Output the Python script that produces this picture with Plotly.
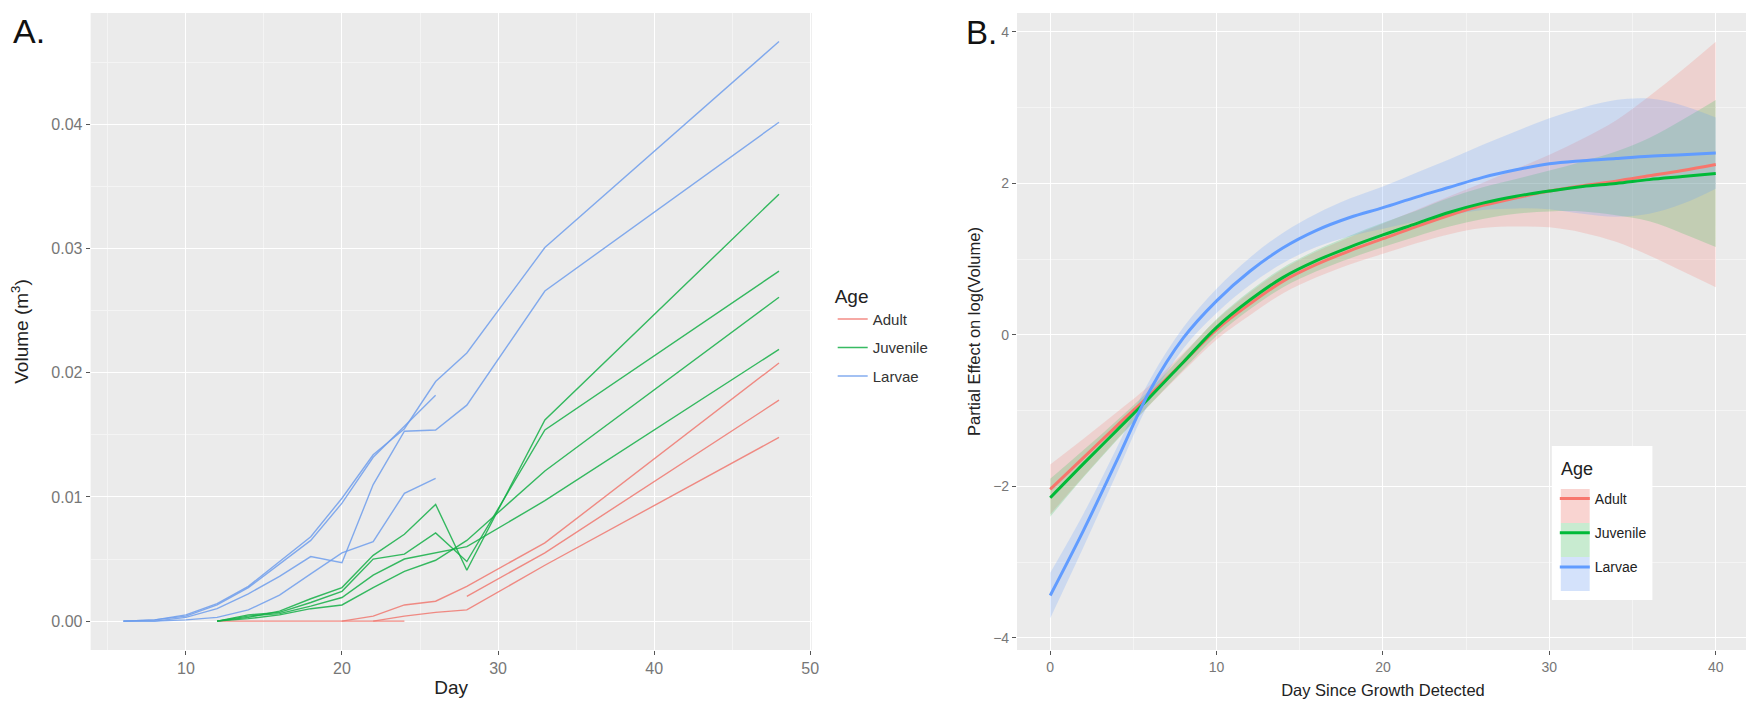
import plotly.graph_objects as go

# ---------------- Panel A data (Day vs Volume, m^3) ----------------
larvae_days_long = [6, 8, 10, 12, 14, 16, 18, 20, 22, 24, 26, 28, 33, 48]
larvae_days_short = [6, 8, 10, 12, 14, 16, 18, 20, 22, 24, 26]
larvae_1 = [0, 0.0001, 0.0005, 0.0014, 0.0028, 0.0048, 0.0068, 0.0099, 0.0134, 0.0155, 0.0193, 0.0216, 0.0301, 0.0467]
larvae_2 = [0, 0.0001, 0.0004, 0.0013, 0.0027, 0.0046, 0.0065, 0.0095, 0.0132, 0.0157, 0.0182]
larvae_3 = [0, 0, 0.0003, 0.0010, 0.0022, 0.0036, 0.0052, 0.0047, 0.0110, 0.0153, 0.0154, 0.0174, 0.0266, 0.0402]
larvae_4 = [0, 0, 0.0001, 0.0003, 0.0009, 0.0021, 0.0038, 0.0055, 0.0064, 0.0103, 0.0115]

juvenile_days = [12, 14, 16, 18, 20, 22, 24, 26, 28, 33, 48]
juvenile_1 = [0, 0.0003, 0.0008, 0.0018, 0.0027, 0.0053, 0.0070, 0.0094, 0.0041, 0.0162, 0.0344]
juvenile_2 = [0, 0.0005, 0.0007, 0.0015, 0.0024, 0.0050, 0.0054, 0.0071, 0.0048, 0.0154, 0.0282]
juvenile_3 = [0, 0.0004, 0.0006, 0.0012, 0.0019, 0.0037, 0.0050, 0.0055, 0.0060, 0.0097, 0.0219]
juvenile_4 = [0, 0.0002, 0.0005, 0.0010, 0.0013, 0.0027, 0.0040, 0.0049, 0.0065, 0.0121, 0.0261]

adult_0_days = [12, 14, 16, 18, 20, 22, 24]
adult_0 = [0, 0, 0, 0, 0, 0, 0]
adult_1_days = [20, 22, 24, 26, 28, 33, 48]
adult_1 = [0, 0.0004, 0.0013, 0.0016, 0.0028, 0.0063, 0.0208]
adult_2_days = [22, 24, 26, 28, 33, 48]
adult_2 = [0, 0.0004, 0.0007, 0.0009, 0.0045, 0.0148]
adult_3_days = [28, 33, 48]
adult_3 = [0.0020, 0.0055, 0.0178]

# ---------------- Panel B data (GAM partial effects) ----------------
b_days = [0, 2, 4, 6, 8, 10, 12, 14, 16, 18, 20, 22, 24, 26, 28, 30, 32, 34, 36, 38, 40]
adult_fit = [-2.04, -1.62, -1.20, -0.79, -0.36, 0.07, 0.41, 0.71, 0.93, 1.11, 1.27, 1.43, 1.58, 1.71, 1.81, 1.90, 1.97, 2.03, 2.10, 2.17, 2.25]
adult_se = [0.33, 0.25, 0.18, 0.13, 0.12, 0.13, 0.15, 0.16, 0.17, 0.18, 0.20, 0.22, 0.25, 0.30, 0.38, 0.48, 0.62, 0.80, 1.05, 1.33, 1.62]
juvenile_fit = [-2.15, -1.70, -1.26, -0.82, -0.36, 0.10, 0.46, 0.76, 0.98, 1.16, 1.32, 1.47, 1.62, 1.74, 1.83, 1.90, 1.96, 2.00, 2.05, 2.09, 2.13]
juvenile_se = [0.25, 0.18, 0.13, 0.10, 0.10, 0.11, 0.12, 0.13, 0.14, 0.15, 0.16, 0.17, 0.19, 0.21, 0.23, 0.27, 0.33, 0.42, 0.55, 0.75, 0.97]
larvae_fit = [-3.44, -2.58, -1.66, -0.73, -0.04, 0.45, 0.84, 1.15, 1.38, 1.55, 1.68, 1.82, 1.95, 2.08, 2.18, 2.26, 2.30, 2.33, 2.36, 2.38, 2.40]
larvae_se = [0.30, 0.22, 0.17, 0.14, 0.14, 0.16, 0.18, 0.20, 0.22, 0.25, 0.28, 0.32, 0.37, 0.43, 0.51, 0.60, 0.70, 0.77, 0.76, 0.65, 0.47]

ages = ["Adult", "Juvenile", "Larvae"]
col_line = {"Adult": "#F8766D", "Juvenile": "#00BA38", "Larvae": "#619CFF"}
col_a = {"Adult": "rgba(240,120,112,0.85)", "Juvenile": "rgba(20,175,70,0.85)", "Larvae": "rgba(110,158,236,0.85)"}
col_fill = {"Adult": "rgba(248,118,109,0.22)", "Juvenile": "rgba(0,186,56,0.18)", "Larvae": "rgba(97,156,255,0.22)"}
col_key = {"Adult": "#F9D4D1", "Juvenile": "#C8EBD0", "Larvae": "#D4E2FB"}

FONT = "Liberation Sans, Arial, sans-serif"

fig = go.Figure()

panel_a = [
    ("Adult", adult_0_days, adult_0), ("Adult", adult_1_days, adult_1),
    ("Adult", adult_2_days, adult_2), ("Adult", adult_3_days, adult_3),
    ("Juvenile", juvenile_days, juvenile_1), ("Juvenile", juvenile_days, juvenile_2),
    ("Juvenile", juvenile_days, juvenile_3), ("Juvenile", juvenile_days, juvenile_4),
    ("Larvae", larvae_days_long, larvae_1), ("Larvae", larvae_days_short, larvae_2),
    ("Larvae", larvae_days_long, larvae_3), ("Larvae", larvae_days_short, larvae_4),
]
shown = set()
for age, xs, ys in panel_a:
    fig.add_trace(go.Scatter(
        x=xs, y=ys, mode="lines", name=age, legendgroup="A" + age,
        showlegend=age not in shown, legend="legend",
        line=dict(color=col_a[age], width=1.4),
        xaxis="x", yaxis="y", hoverinfo="skip"))
    shown.add(age)

fits = {"Adult": (adult_fit, adult_se), "Juvenile": (juvenile_fit, juvenile_se), "Larvae": (larvae_fit, larvae_se)}
for age in ages:
    f, s = fits[age]
    lo = [a - b for a, b in zip(f, s)]
    hi = [a + b for a, b in zip(f, s)]
    fig.add_trace(go.Scatter(x=b_days, y=lo, mode="lines", line=dict(width=0, shape="spline"),
                             showlegend=False, xaxis="x2", yaxis="y2", hoverinfo="skip"))
    fig.add_trace(go.Scatter(x=b_days, y=hi, mode="lines", line=dict(width=0, shape="spline"),
                             fill="tonexty", fillcolor=col_fill[age],
                             showlegend=False, xaxis="x2", yaxis="y2", hoverinfo="skip"))
for age in ages:
    f, s = fits[age]
    fig.add_trace(go.Scatter(x=b_days, y=f, mode="lines", name=age, legendgroup="B" + age,
                             legend="legend2",
                             line=dict(color=col_line[age], width=3, shape="spline"),
                             xaxis="x2", yaxis="y2", hoverinfo="skip"))

W, H = 1754, 703
ydom = [1 - 642 / H, 1 - 5 / H]

axis_common = dict(
    showgrid=True, gridcolor="white", gridwidth=1.2, zeroline=False,
    ticks="outside", ticklen=4, tickwidth=1, tickcolor="#555",
    showline=False,
)

# legend box decoration for panel B (white box + ribbon key swatches)
shapes = [dict(type="rect", xref="paper", yref="paper", x0=1550 / W, x1=1651 / W,
               y0=1 - 592 / H, y1=1 - 438 / H, fillcolor="white", line=dict(width=0), layer="above")]
for i, age in enumerate(ages):
    top = 481 + 34 * i
    shapes.append(dict(type="rect", xref="paper", yref="paper", x0=1559 / W, x1=1588 / W,
                       y0=1 - (top + 34) / H, y1=1 - top / H, fillcolor=col_key[age],
                       line=dict(width=0), layer="above"))

fig.update_layout(
    width=W, height=H,
    margin=dict(l=0, r=0, t=0, b=0),
    paper_bgcolor="white", plot_bgcolor="#EBEBEB",
    font=dict(family=FONT, color="#222"),
    xaxis=dict(domain=[83 / W, 807 / W], range=[3.9, 50.1], tickvals=[10, 20, 30, 40, 50],
               tickfont=dict(size=16, color="#777"), anchor="y",
               minor=dict(dtick=5, tick0=0, showgrid=True, gridcolor="#F4F4F4", gridwidth=0.6, ticks=""),
               title=dict(text="Day", font=dict(size=19, color="#222"), standoff=4),
               **axis_common),
    yaxis=dict(domain=ydom, range=[-0.00233, 0.049], tickvals=[0, 0.01, 0.02, 0.03, 0.04],
               ticktext=["0.00", "0.01", "0.02", "0.03", "0.04"],
               tickfont=dict(size=16, color="#777"), anchor="x",
               minor=dict(dtick=0.005, tick0=0, showgrid=True, gridcolor="#F4F4F4", gridwidth=0.6, ticks=""),
               title=dict(text="Volume (m<sup>3</sup>)", font=dict(size=19, color="#222"), standoff=20),
               **axis_common),
    xaxis2=dict(domain=[1013 / W, 1748 / W], range=[-2, 42], tickvals=[0, 10, 20, 30, 40],
                tickfont=dict(size=14, color="#777"), anchor="y2",
                minor=dict(dtick=5, tick0=0, showgrid=True, gridcolor="#F4F4F4", gridwidth=0.6, ticks=""),
                title=dict(text="Day Since Growth Detected", font=dict(size=16.5, color="#222"), standoff=10),
                **axis_common),
    yaxis2=dict(domain=ydom, range=[-4.16, 4.25], tickvals=[-4, -2, 0, 2, 4],
                tickfont=dict(size=14, color="#777"), anchor="x2",
                minor=dict(dtick=1, tick0=0, showgrid=True, gridcolor="#F4F4F4", gridwidth=0.6, ticks=""),
                title=dict(text="Partial Effect on log(Volume)", font=dict(size=16.5, color="#222"), standoff=8),
                **axis_common),
    legend=dict(title=dict(text="Age", font=dict(size=19, color="#222")),
                x=828 / W, y=1 - 270 / H, xanchor="left", yanchor="top",
                bgcolor="rgba(0,0,0,0)", font=dict(size=15, color="#333"),
                traceorder="grouped", tracegroupgap=6, itemwidth=30),
    legend2=dict(x=1553 / W, y=1 - 475 / H, xanchor="left", yanchor="top",
                 bgcolor="rgba(0,0,0,0)", font=dict(size=14, color="#222"),
                 traceorder="grouped", tracegroupgap=13, itemwidth=30),
    shapes=shapes,
    annotations=[
        dict(text="A.", x=3 / W, y=1 - 2 / H, xref="paper", yref="paper", xanchor="left", yanchor="top",
             showarrow=False, font=dict(size=34, color="#111", family=FONT)),
        dict(text="B.", x=960 / W, y=1 - 4 / H, xref="paper", yref="paper", xanchor="left", yanchor="top",
             showarrow=False, font=dict(size=33, color="#111", family=FONT)),
        dict(text="Age", x=1557 / W, y=1 - 461 / H, xref="paper", yref="paper", xanchor="left", yanchor="middle",
             showarrow=False, font=dict(size=18, color="#222", family=FONT)),
    ],
)

fig.write_html("out.html")
